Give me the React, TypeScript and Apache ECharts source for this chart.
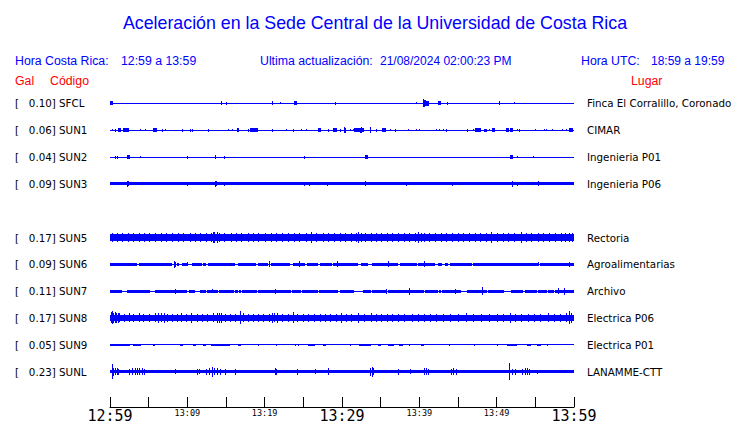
import React, { useEffect, useRef } from "react";
import * as echarts from "echarts";

// ---- data ----
const TITLE = "Aceleración en la Sede Central de la Universidad de Costa Rica";
const HORA_CR = "12:59 a 13:59";
const HORA_UTC = "18:59 a 19:59";
const ACTUALIZACION = "21/08/2024 02:00:23 PM";

// minutes after 12:59, one tick every 5 min
const TICK_LABELS = ["12:59", "13:04", "13:09", "13:14", "13:19", "13:24", "13:29", "13:34", "13:39", "13:44", "13:49", "13:54", "13:59"];

const CODES = ["SFCL", "SUN1", "SUN2", "SUN3", "", "SUN5", "SUN6", "SUN7", "SUN8", "SUN9", "SUNL"];
const GAL = ["0.10", "0.06", "0.04", "0.09", "", "0.17", "0.09", "0.11", "0.17", "0.05", "0.23"];
const PLACES = ["Finca El Corralillo, Coronado", "CIMAR", "Ingenieria P01", "Ingenieria P06", "", "Rectoria", "Agroalimentarias", "Archivo", "Electrica P06", "Electrica P01", "LANAMME-CTT"];

// trace envelopes. bands: [start min, end min, half amplitude]; spikes: [min, half amplitude]
const SFCL_BANDS = [[0, 60, 0.5], [0, 0.35, 2], [23.74, 24.13, 2], [40.45, 41.2, 2.5], [42.37, 42.8, 2]];
const SFCL_SPIKES = [[14.3, 2], [15.0, 1.5], [20.9, 2], [22.0, 1], [29.05, 1.5], [39.6, 1], [40.5, 4], [40.6, 3.5], [40.75, 3], [43.6, 1.5], [50.35, 2], [52.25, 1]];

const SUN1_BANDS = [[0, 60, 0.5], [1.08, 1.38, 2], [1.72, 2.45, 2], [5.59, 6.1, 2], [16.47, 16.73, 2], [18.11, 19.14, 2], [26.88, 27.31, 2], [28.82, 29.33, 2], [31.61, 32.82, 2], [35.18, 35.7, 2], [47.22, 47.96, 2], [48.39, 48.73, 1.5], [49.46, 49.76, 2], [51.18, 51.61, 2], [51.74, 52.17, 2], [59.35, 59.91, 2]];
const SUN1_SPIKES = [[0.3, 1], [0.7, 1.5], [3.9, 1], [4.55, 1], [6.7, 1.5], [7.15, 1], [9.3, 1.5], [10.3, 1.5], [10.65, 1.5], [12.65, 1.5], [15.3, 1], [15.75, 1], [17.8, 1.5], [20.9, 1.5], [22.8, 1], [23.6, 1.5], [24.75, 1], [25.35, 1], [28.2, 1.5], [29.8, 1.5], [30.3, 3], [30.4, 2.5], [31.0, 1], [31.45, 1], [32.3, 2.5], [32.45, 3], [33.58, 3], [34.45, 1.5], [36.25, 1], [36.9, 1.5], [38.5, 1], [39.6, 1], [39.95, 1], [42.2, 1], [42.6, 1], [43.05, 1], [43.5, 1.5], [46.2, 1.5], [46.9, 1], [48.95, 1], [52.65, 1], [52.95, 1.5], [54.9, 1], [56.15, 1], [56.4, 1], [57.15, 1], [58.4, 1], [58.95, 1]];

const SUN2_BANDS = [[0, 60, 0.5], [2.15, 2.58, 2], [13.55, 13.77, 2], [32.99, 33.33, 2], [51.74, 52.05, 2]];
const SUN2_SPIKES = [[0.7, 1.5], [0.95, 1.5], [3.9, 1], [10.0, 1.5], [14.75, 1.5], [25.1, 1.5], [52.65, 1], [54.75, 1]];

const SUN3_BANDS = [[0, 60, 1.5]];
const SUN3_SPIKES = [[2.2, 3], [2.35, 2.5], [10.0, 2], [13.6, 3], [13.75, 2.5], [14.75, 2], [25.1, 2], [25.7, 2], [28.1, 2], [33.0, 2.5], [38.3, 2], [44.2, 1.8], [51.95, 3], [52.65, 2], [55.3, 2.5]];

const SUN5_BANDS = [[0, 60, 3.3]];
const SUN5_SPIKES = [[0.2, 4.5], [0.9, 4.2], [1.5, 4.8], [2.3, 4.3], [3.0, 4.6], [3.7, 4.2], [4.4, 4.8], [5.1, 4.3], [5.8, 4.5], [6.6, 4.9], [7.3, 4.4], [8.0, 4.6], [8.8, 4.2], [9.5, 4.7], [10.3, 4.4], [11.0, 4.8], [11.7, 4.3], [12.4, 4.5], [13.0, 5.0], [13.3, 5.8], [13.5, 5.5], [13.8, 5.2], [14.1, 4.8], [14.8, 4.3], [15.6, 4.6], [16.3, 4.4], [17.0, 4.7], [17.8, 4.3], [18.5, 4.6], [19.2, 4.2], [20.0, 4.5], [20.8, 4.8], [21.5, 4.3], [22.3, 4.5], [23.0, 4.2], [23.8, 4.6], [24.5, 4.3], [25.3, 4.5], [26.0, 5.3], [26.7, 4.4], [27.5, 4.6], [28.2, 4.3], [29.0, 4.7], [29.7, 4.9], [30.4, 4.4], [31.2, 4.6], [31.8, 4.8], [32.1, 6.0], [32.4, 5.0], [33.0, 4.5], [33.7, 4.3], [34.4, 4.8], [35.0, 4.5], [35.8, 4.3], [36.5, 4.7], [37.2, 4.4], [38.0, 4.6], [38.7, 4.3], [39.4, 4.9], [39.8, 5.2], [40.2, 5.0], [40.6, 4.8], [41.3, 4.4], [42.0, 4.6], [42.8, 4.3], [43.5, 4.7], [44.2, 4.4], [45.0, 4.6], [45.7, 4.3], [46.4, 4.5], [47.2, 4.8], [47.9, 4.4], [48.6, 4.6], [49.3, 6.0], [50.0, 4.5], [50.8, 4.3], [51.5, 4.6], [52.3, 4.4], [53.1, 5.2], [53.8, 4.6], [54.5, 4.3], [55.3, 4.6], [56.0, 4.4], [56.8, 4.7], [57.5, 4.3], [58.3, 4.6], [58.9, 4.7], [59.4, 4.5], [59.8, 4.3]];

const SUN6_BANDS = [[0, 60, 0.5], [0, 3.53, 1.7], [3.79, 7.97, 1.7], [8.62, 8.92, 1.7], [9.35, 10.04, 1.7], [10.65, 11.85, 1.7], [11.98, 12.37, 1.7], [12.63, 16.16, 1.7], [16.59, 18.84, 1.7], [19.09, 20.47, 1.7], [20.78, 23.28, 1.7], [23.62, 25.22, 1.7], [25.43, 26.94, 1.7], [27.16, 28.66, 1.7], [28.88, 32.11, 1.7], [32.46, 33.41, 1.7], [33.84, 37.28, 1.7], [37.5, 39.66, 1.7], [39.87, 42.03, 1.7], [42.46, 42.97, 1.7], [43.32, 43.75, 1.7], [43.97, 46.77, 1.7], [46.98, 55.39, 1.7], [55.6, 60, 1.7]];
const SUN6_SPIKES = [[8.25, 3.5], [8.4, 2.5], [9.95, 2], [20.55, 3], [24.4, 3], [29.35, 3], [36.0, 3], [40.55, 3], [55.35, 2], [59.35, 2.5]];

const SUN7_BANDS = [[0, 60, 0.5], [0, 1.5, 1.5], [2.15, 5.16, 1.5], [5.8, 10.0, 1.5], [10.2, 11.0, 1.5], [11.6, 12.45, 1.5], [12.6, 13.95, 1.5], [14.1, 16.05, 1.5], [16.2, 16.55, 1.5], [16.7, 16.95, 1.5], [17.1, 19.05, 1.5], [19.2, 23.35, 1.5], [23.5, 24.65, 1.5], [24.8, 26.85, 1.5], [27.0, 29.45, 1.5], [29.7, 31.6, 1.5], [32.7, 33.75, 1.5], [33.9, 35.85, 1.5], [36.0, 40.55, 1.5], [40.7, 42.35, 1.5], [42.5, 42.75, 1.5], [42.9, 45.4, 1.5], [46.2, 48.75, 1.5], [48.9, 51.0, 1.5], [51.8, 53.45, 1.5], [53.6, 55.25, 1.5], [55.4, 56.55, 1.5], [56.7, 57.35, 1.5], [57.5, 60, 1.5]];
const SUN7_SPIKES = [[8.35, 2.5], [13.15, 2], [21.35, 2.5], [35.75, 2.5], [38.65, 3.5], [44.55, 2.5], [48.05, 4], [57.95, 3], [58.75, 3.5]];

const SUN8_BANDS = [[0, 60, 3.2]];
const SUN8_SPIKES = [[0.1, 5.5], [0.25, 6.5], [0.4, 5.0], [0.6, 5.5], [0.8, 4.8], [1.0, 5.2], [1.2, 4.5], [1.8, 4.0], [2.4, 4.5], [3.0, 4.0], [3.7, 4.5], [4.3, 4.0], [5.0, 4.2], [5.8, 4.5], [6.2, 5.0], [6.6, 4.5], [7.0, 5.0], [7.4, 4.3], [8.0, 4.0], [8.7, 4.2], [9.2, 4.5], [9.8, 4.0], [10.5, 4.6], [11.2, 4.0], [11.9, 4.2], [12.6, 4.0], [13.3, 4.5], [13.8, 4.8], [14.1, 5.2], [14.4, 4.6], [14.9, 4.3], [15.5, 4.0], [16.1, 4.2], [16.75, 6.5], [17.2, 4.5], [17.8, 4.3], [18.5, 4.0], [19.1, 4.2], [19.8, 4.0], [20.5, 4.3], [20.9, 4.8], [21.2, 4.5], [21.6, 4.6], [22.3, 4.0], [23.0, 4.2], [23.65, 5.5], [24.2, 4.3], [24.9, 4.0], [25.6, 4.2], [26.4, 4.3], [27.1, 4.0], [27.8, 4.2], [28.5, 4.0], [29.2, 4.3], [29.9, 5.0], [30.5, 4.2], [31.2, 4.0], [32.1, 4.6], [32.8, 4.0], [33.7, 4.5], [34.4, 4.0], [35.1, 4.2], [35.8, 4.0], [36.5, 4.3], [37.2, 4.0], [38.0, 4.2], [39.0, 4.3], [39.8, 4.0], [40.6, 4.2], [41.4, 4.0], [42.2, 4.2], [43.0, 4.0], [44.0, 4.2], [45.0, 4.0], [46.0, 4.5], [47.0, 4.0], [48.0, 4.2], [49.0, 4.0], [50.0, 4.3], [50.8, 4.0], [51.7, 4.8], [52.4, 4.2], [53.2, 4.0], [54.0, 4.2], [54.8, 4.0], [55.6, 4.2], [56.6, 4.5], [57.4, 4.0], [58.2, 4.2], [59.0, 4.5], [59.3, 6.5], [59.6, 5.0]];

const SUN9_BANDS = [[0, 60, 0.5], [0, 2.58, 1.2], [3.0, 4.0, 1.2], [5.6, 5.8, 1.2], [9.0, 9.46, 1.2], [10.75, 11.18, 1.2], [12.04, 12.47, 1.2], [13.12, 15.48, 1.2], [16.56, 16.99, 1.2], [19.1, 19.2, 1.2], [21.5, 21.6, 1.2], [23.87, 23.97, 1.2], [24.3, 24.4, 1.2], [25.6, 26.45, 1.2], [27.53, 27.96, 1.2], [30.97, 31.07, 1.2], [32.26, 33.76, 1.2], [34.6, 35.05, 1.2], [35.9, 36.77, 1.2], [37.4, 37.85, 1.2], [38.7, 38.8, 1.2], [40.2, 40.65, 1.2], [43.87, 43.97, 1.2], [47.1, 47.2, 1.2], [50.1, 50.2, 1.2], [51.4, 52.69, 1.2], [53.98, 54.41, 1.2], [55.27, 55.7, 1.2], [56.56, 56.66, 1.2]];
const SUN9_SPIKES: number[][] = [];

const SUNL_BANDS = [[0, 60, 1.8]];
const SUNL_SPIKES = [[0.3, 7.5], [0.45, 4], [0.7, 3.5], [0.9, 3.5], [1.05, 3], [2.4, 3], [2.8, 3.2], [3.2, 3.5], [3.5, 3.8], [3.8, 3.5], [4.1, 3.5], [4.4, 3], [8.45, 2.5], [11.2, 3], [11.5, 2.8], [12.4, 3], [12.8, 3.5], [13.15, 5], [13.4, 3.5], [13.8, 3.2], [14.2, 3], [14.85, 3], [16.15, 3], [21.3, 3.5], [21.5, 3], [24.15, 3], [26.55, 2.5], [28.25, 3.5], [33.6, 4], [33.85, 5], [34.0, 3.5], [37.25, 3], [38.75, 2.5], [40.6, 3.5], [40.9, 3.5], [41.1, 3], [44.1, 3], [44.4, 3.2], [44.8, 3], [51.55, 8.5], [52.0, 3], [52.35, 3], [53.3, 3], [53.6, 3.5], [53.9, 3.5], [54.2, 3], [55.25, 2]];

const TRACES: ({ bands: number[][]; spikes: number[][] } | null)[] = [
  { bands: SFCL_BANDS, spikes: SFCL_SPIKES },
  { bands: SUN1_BANDS, spikes: SUN1_SPIKES },
  { bands: SUN2_BANDS, spikes: SUN2_SPIKES },
  { bands: SUN3_BANDS, spikes: SUN3_SPIKES },
  null,
  { bands: SUN5_BANDS, spikes: SUN5_SPIKES },
  { bands: SUN6_BANDS, spikes: SUN6_SPIKES },
  { bands: SUN7_BANDS, spikes: SUN7_SPIKES },
  { bands: SUN8_BANDS, spikes: SUN8_SPIKES },
  { bands: SUN9_BANDS, spikes: SUN9_SPIKES },
  { bands: SUNL_BANDS, spikes: SUNL_SPIKES },
];

// ---- styles ----
const BLUE = "#0000ff";
const RED = "#ff0000";
const SANS = '"Liberation Sans", Arial, Helvetica, sans-serif';
const DEJAVU = '"DejaVu Sans", sans-serif';
const MONO = '"DejaVu Sans Mono", monospace';
const AMP = 1 / 27; // relative amplitude unit -> row units

export default function App() {
  const ref = useRef<HTMLDivElement>(null);
  useEffect(() => {
    if (!ref.current) return;
    const chart = echarts.init(ref.current, undefined, { renderer: "svg" });

    const renderItem = (params: any, api: any) => {
      const row = api.value(3);
      const a = api.coord([api.value(0), row]);
      const b = api.coord([api.value(1), row]);
      const h = api.size([0, api.value(2) * AMP])[1];
      const x0 = Math.round(a[0]);
      const x1 = Math.max(Math.round(b[0]), x0 + 1);
      const y0 = Math.round(a[1] - h);
      let y1 = Math.round(a[1] + h);
      if (y1 - y0 < 1) y1 = y0 + 1;
      return {
        type: "rect",
        shape: { x: x0, y: y0, width: x1 - x0, height: y1 - y0 },
        style: { fill: BLUE },
      };
    };

    const series: any[] = [];
    TRACES.forEach((tr, row) => {
      if (!tr) return;
      const data = [
        ...tr.bands.map((d) => [d[0], d[1], d[2], row]),
        ...tr.spikes.map((d) => [d[0], d[0], d[1], row]),
      ];
      series.push({
        type: "custom",
        name: CODES[row],
        xAxisIndex: 0,
        yAxisIndex: 0,
        clip: false,
        silent: true,
        renderItem,
        encode: { x: [0, 1], y: 3 },
        data,
      });
    });

    const text = (t: string, x: number, y: number, color: string, size: number, family: string, align = "left") => ({
      type: "text",
      x,
      y,
      silent: true,
      style: {
        text: t,
        fill: color,
        font: `${size}px ${family}`,
        textAlign: align,
        textVerticalAlign: "middle",
        align,
        verticalAlign: "middle",
      },
    });

    chart.setOption({
      animation: false,
      backgroundColor: "#ffffff",
      graphic: [
        text(TITLE, 375, 22.5, BLUE, 17.8, SANS, "center"),
        text("Hora Costa Rica:", 15, 61, BLUE, 12.3, SANS),
        text(HORA_CR, 121, 61, BLUE, 12.3, SANS),
        text("Ultima actualización:", 260, 61, BLUE, 12.3, SANS),
        text(ACTUALIZACION, 380, 61, BLUE, 12, SANS),
        text("Hora UTC:", 581, 61, BLUE, 12.3, SANS),
        text(HORA_UTC, 651, 61, BLUE, 12, SANS),
        text("Gal", 15, 81, RED, 12.3, SANS),
        text("Código", 50, 81, RED, 12.3, SANS),
        text("Lugar", 631, 81, RED, 12.3, SANS),
      ],
      grid: { left: 110, right: 166, top: 90, bottom: 36, containLabel: false },
      xAxis: {
        type: "value",
        min: 0,
        max: 60,
        interval: 5,
        offset: 22,
        axisLine: { show: true, onZero: false, lineStyle: { color: "#000", width: 1 } },
        axisTick: { show: true, inside: true, length: 10, lineStyle: { color: "#000" } },
        splitLine: { show: false },
        axisLabel: {
          margin: 1,
          showMinLabel: true,
          showMaxLabel: true,
          formatter: (v: number) => {
            const i = Math.round(v / 5);
            if (i % 2 !== 0) return "";
            const lab = TICK_LABELS[i] || "";
            return i % 6 === 0 ? `{big|${lab}}` : `{small|${lab}}`;
          },
          rich: {
            big: { fontFamily: MONO, fontSize: 15, color: "#000", lineHeight: 15 },
            small: { fontFamily: MONO, fontSize: 8.5, color: "#000", lineHeight: 9 },
          },
        },
      },
      yAxis: [
        {
          type: "value",
          min: -0.5,
          max: 10.5,
          inverse: true,
          show: false,
        },
        {
          type: "category",
          data: CODES.map((c, i) => (c ? `[   ${GAL[i]}] ${c}` : "")),
          inverse: true,
          position: "left",
          boundaryGap: true,
          axisLine: { show: false },
          axisTick: { show: false },
          splitLine: { show: false },
          axisLabel: {
            align: "left",
            margin: 95,
            color: "#000",
            fontFamily: DEJAVU,
            fontSize: 10.3,
            interval: 0,
          },
        },
        {
          type: "category",
          data: PLACES,
          inverse: true,
          position: "right",
          boundaryGap: true,
          axisLine: { show: false },
          axisTick: { show: false },
          splitLine: { show: false },
          axisLabel: {
            align: "left",
            margin: 13,
            color: "#000",
            fontFamily: DEJAVU,
            fontSize: 10.3,
            interval: 0,
          },
        },
      ],
      series,
    });
    return () => chart.dispose();
  }, []);
  return <div ref={ref} style={{ position: "fixed", left: 0, top: 0, width: 740, height: 423, background: "#fff" }} />;
}
